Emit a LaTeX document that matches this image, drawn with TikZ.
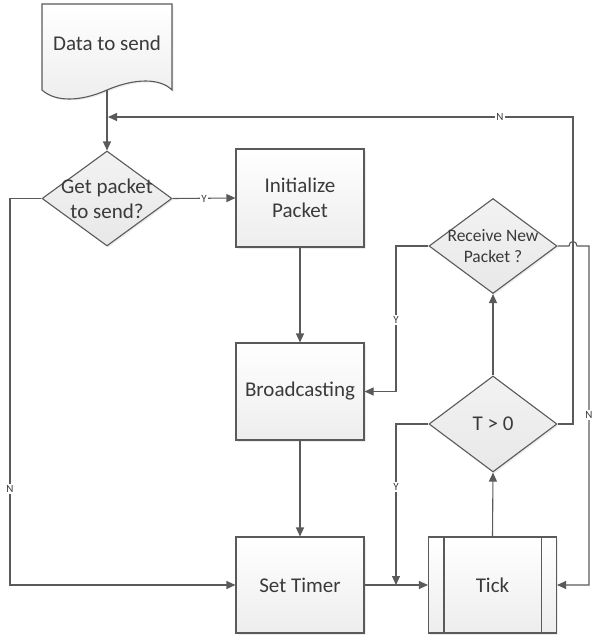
\documentclass[tikz,border=0pt]{standalone}
\usepackage{fontspec}
\setmainfont{Carlito}
\usetikzlibrary{arrows.meta,shapes.geometric,shadows}
\definecolor{lncol}{HTML}{5A5A5A}
\definecolor{txcol}{HTML}{3A3A3A}
\tikzset{
 shp/.style={draw=lncol, line width=1.1pt, drop shadow={opacity=0.15,shadow xshift=1.5pt,shadow yshift=-1.5pt}},
 box/.style={shp, rectangle, top color=white, bottom color=black!7, minimum width=128pt, inner sep=0pt},
 dia/.style={shp, diamond, top color=black!5, bottom color=black!9, inner sep=0pt},
 txt/.style={text=txcol, font=\fontsize{21}{25}\selectfont, align=center, inner sep=0pt},
 stxt/.style={text=txcol, font=\fontsize{17.5}{21}\selectfont, align=center, inner sep=0pt},
 lbl/.style={text=txcol, fill=white, inner sep=1pt, font=\fontsize{11}{13}\selectfont},
 wire/.style={draw=lncol, line width=1.1pt},
 con/.style={wire, -{Triangle[length=9pt,width=8pt]}}
}
\begin{document}
\begin{tikzpicture}[x=1pt,y=-1pt]
\useasboundingbox (0,0) rectangle (593,635);
% document shape
\path[shp, top color=white, bottom color=black!7] (42,4) -- (172,4) -- (172,90)
  .. controls (160,78) and (135,78) .. (107,90)
  .. controls (80,102) and (55,102) .. (42,90) -- cycle;
\node[txt] (doct) at (107,43) {Data to send};
\coordinate (docb) at (107,90);
% diamonds
\node[dia, minimum width=130pt, minimum height=95pt] (get) at (107,198.5) {};
\node[txt] (gett) at (107,198.5) {Get packet\\to send?};
\node[dia, minimum width=128pt, minimum height=95pt] (rcv) at (493,246) {};
\node[stxt] (rcvt) at (493,246) {Receive New\\Packet ?};
\node[dia, minimum width=128pt, minimum height=96pt] (tgt) at (493,424) {};
\node[txt] (tgtt) at (493,424) {T > 0};
% boxes
\node[box, minimum height=98pt] (init) at (300,198) {};
\node[txt] (initt) at (300,198) {Initialize\\Packet};
\node[box, minimum height=97pt] (bc) at (300,391.5) {};
\node[txt] (bct) at (300,391.5) {Broadcasting};
\node[box, minimum height=96pt] (st) at (300,585) {};
\node[txt] (stt) at (300,585) {Set Timer};
\node[box, minimum height=96pt] (tick) at (492.5,585) {};
\draw[wire] ([xshift=16pt]tick.north west) -- ([xshift=16pt]tick.south west);
\draw[wire] ([xshift=-16pt]tick.north east) -- ([xshift=-16pt]tick.south east);
\node[txt] (tickt) at (492.5,585) {Tick};
% junction coordinates
\coordinate (j1) at (396,585);
\coordinate (j2) at (108,117);
% connectors
\draw[con] (docb) -- (get.north);
\draw[con] (get.east) -- (init.west);
\draw[con] (init.south) -- (bc.north);
\draw[con] (bc.south) -- (st.north);
\draw[con] (st.east) -- (tick.west);
\draw[con] (tick.north) -- (tgt.south);
\draw[con] (tgt.north) -- (rcv.south);
\draw[con] (get.west) -- (10,198.5) -- (10,585) -- (st.west);
\draw[con] (tgt.west) -| (j1);
\draw[con] (rcv.west) -- (396,246) |- (bc.east);
\draw[con] (tgt.east) -- (573,424) -- (573,117) -- (j2);
\draw[con] (rcv.east) -- (569,246) .. controls (569,240) and (577,240) .. (577,246) -- (589,246) |- (tick.east);
% labels
\node[lbl] (ly1) at (204,198.5) {Y};
\node[lbl] (ln1) at (10,489) {N};
\node[lbl] (ly2) at (396,320) {Y};
\node[lbl] (ly3) at (396,487) {Y};
\node[lbl] (ln2) at (589,415) {N};
\node[lbl] (ln3) at (500,117) {N};
\end{tikzpicture}
\end{document}
